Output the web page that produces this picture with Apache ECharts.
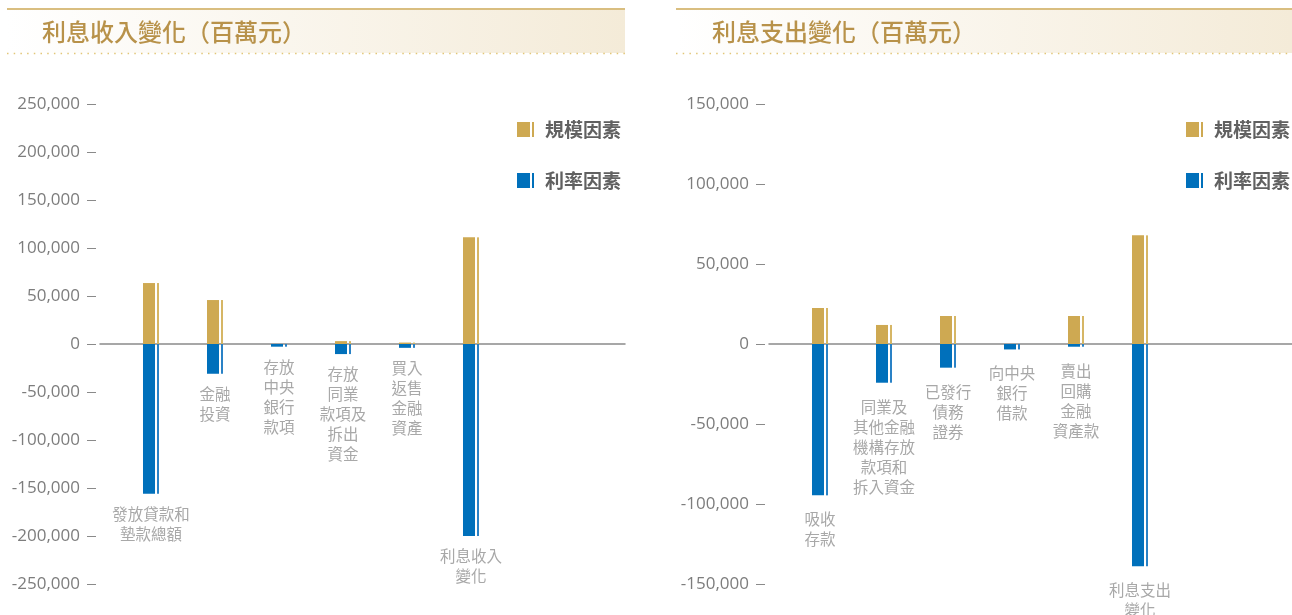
<!DOCTYPE html>
<html>
<head>
<meta charset="utf-8">
<title>利息收入及支出變化</title>
<script src="https://cdn.jsdelivr.net/npm/echarts@6/dist/echarts.min.js"></script>
<style>
html, body { margin: 0; padding: 0; background: #fff; }
#main { width: 1292px; height: 615px; }
</style>
</head>
<body>
<div id="main"></div>
<script>
// 利息收入變化（百萬元）
var incomeCats = ['發放貸款和\n墊款總額', '金融\n投資', '存放\n中央\n銀行\n款項', '存放\n同業\n款項及\n拆出\n資金', '買入\n返售\n金融\n資產', '利息收入\n變化'];
var incomeScale = [63500, 45800, -1000, 3000, 1500, 111100];      // 規模因素
var incomeRate = [-156000, -31000, -2800, -10500, -4000, -200000]; // 利率因素
var incomeTicks = [-250000, 250000, 50000];                        // min, max, step

// 利息支出變化（百萬元）
var expenseCats = ['吸收\n存款', '同業及\n其他金融\n機構存放\n款項和\n拆入資金', '已發行\n債務\n證券', '向中央\n銀行\n借款', '賣出\n回購\n金融\n資產款', '利息支出\n變化'];
var expenseScale = [22500, 11900, 17500, -2500, 17500, 67900];
var expenseRate = [-94600, -24200, -14800, -3400, -1700, -138900];
var expenseTicks = [-150000, 150000, 50000];

var titles = ['利息收入變化（百萬元）', '利息支出變化（百萬元）'];
var legendNames = ['規模因素', '利率因素'];

var GOLD = '#cea952', GOLD_EDGE = '#d6b665';
var BLUE = '#0070bb', BLUE_EDGE = '#2a82c6';
var CJK = '"Noto Sans CJK TC", "Noto Sans", sans-serif';

var myChart = echarts.init(document.getElementById('main'));

function pairs(arr) {
    return arr.map(function (v, i) { return [i, v]; });
}

// one panel = grid + axes + 4 bar series (wide bar and its thin edge stripe)
function panel(idx, cats, scale, rate, labelGap) {
    var series = [];
    var parts = [[legendNames[0], scale, GOLD, GOLD_EDGE], [legendNames[1], rate, BLUE, BLUE_EDGE]];
    parts.forEach(function (p, k) {
        series.push({
            name: p[0], type: 'bar', xAxisIndex: idx, yAxisIndex: idx,
            stack: 'main' + idx, barWidth: 12, barGap: '16.67%',
            itemStyle: { color: p[2] },
            data: pairs(p[1]),
            label: k === 1 ? {
                show: true, position: 'bottom', distance: labelGap, offset: [2, 0],
                color: '#a8a8a8', fontSize: 15.5, lineHeight: 20, fontFamily: CJK,
                formatter: function (d) { return cats[d.dataIndex]; }
            } : { show: false }
        });
        series.push({
            name: p[0] + '-edge', type: 'bar', xAxisIndex: idx, yAxisIndex: idx,
            stack: 'edge' + idx, barWidth: 2, barGap: '16.67%',
            itemStyle: { color: p[3] },
            data: pairs(p[1])
        });
    });
    return series;
}

var lefts = [100, 769];
var rights = [667, 0];
var centers = [151, 820];

var xAxes = [0, 1].map(function (i) {
    var w = 1292 - lefts[i] - rights[i];
    return {
        type: 'value', gridIndex: i,
        min: (lefts[i] - centers[i]) / 64,
        max: (lefts[i] + w - centers[i]) / 64,
        axisLine: { onZero: true, lineStyle: { color: '#8a8a8a', width: 1.5 } },
        axisTick: { show: false }, axisLabel: { show: false }, splitLine: { show: false }
    };
});

var yAxes = [incomeTicks, expenseTicks].map(function (t, i) {
    return {
        type: 'value', gridIndex: i, min: t[0], max: t[1], interval: t[2],
        offset: 4,
        axisLine: { show: false, onZero: false },
        axisTick: { show: true, length: 9, lineStyle: { color: '#8a8a8a' } },
        axisLabel: {
            margin: 16, color: '#7d7d7d', fontSize: 17, fontFamily: '"Open Sans", sans-serif',
            formatter: function (v) { return echarts.format.addCommas(v); }
        },
        splitLine: { show: false }
    };
});

// header bands
var graphic = [];
[[7, 618], [676, 616]].forEach(function (h) {
    graphic.push({
        type: 'rect', shape: { x: h[0], y: 10, width: h[1], height: 43 },
        style: {
            fill: new echarts.graphic.LinearGradient(0, 0, 1, 0, [
                { offset: 0, color: '#ffffff' }, { offset: 1, color: '#f4ebd8' }
            ])
        }, silent: true
    });
    graphic.push({
        type: 'rect', shape: { x: h[0], y: 8, width: h[1], height: 2 },
        style: { fill: '#d9be80' }, silent: true
    });
    graphic.push({
        type: 'line', shape: { x1: h[0], y1: 53.5, x2: h[0] + h[1], y2: 53.5 },
        style: { stroke: '#e2c677', lineWidth: 1.5, lineDash: [1.5, 5.2] }, silent: true
    });
});

var legendIcon = 'path://M0,0H13V15H0Z M15,0H17V15H15Z';

myChart.setOption({
    animation: false,
    graphic: graphic,
    title: [0, 1].map(function (i) {
        return {
            text: titles[i], left: [42, 712][i], top: 20, padding: 0,
            textStyle: { fontSize: 24, fontWeight: 500, color: '#b8924a', fontFamily: CJK }
        };
    }),
    legend: [512, 1181].map(function (x) {
        return {
            data: legendNames, orient: 'vertical', left: x, top: 115,
            itemGap: 32, itemWidth: 17, itemHeight: 15, icon: legendIcon,
            selectedMode: false,
            textStyle: { fontSize: 19, fontWeight: 'bold', color: '#616161', fontFamily: CJK, padding: [0, 0, 0, 6] }
        };
    }),
    grid: [0, 1].map(function (i) {
        return { left: lefts[i], right: rights[i], top: 104, height: 480 };
    }),
    xAxis: xAxes,
    yAxis: yAxes,
    series: panel(0, incomeCats, incomeScale, incomeRate, 10)
        .concat(panel(1, expenseCats, expenseScale, expenseRate, 14))
});
</script>
</body>
</html>
